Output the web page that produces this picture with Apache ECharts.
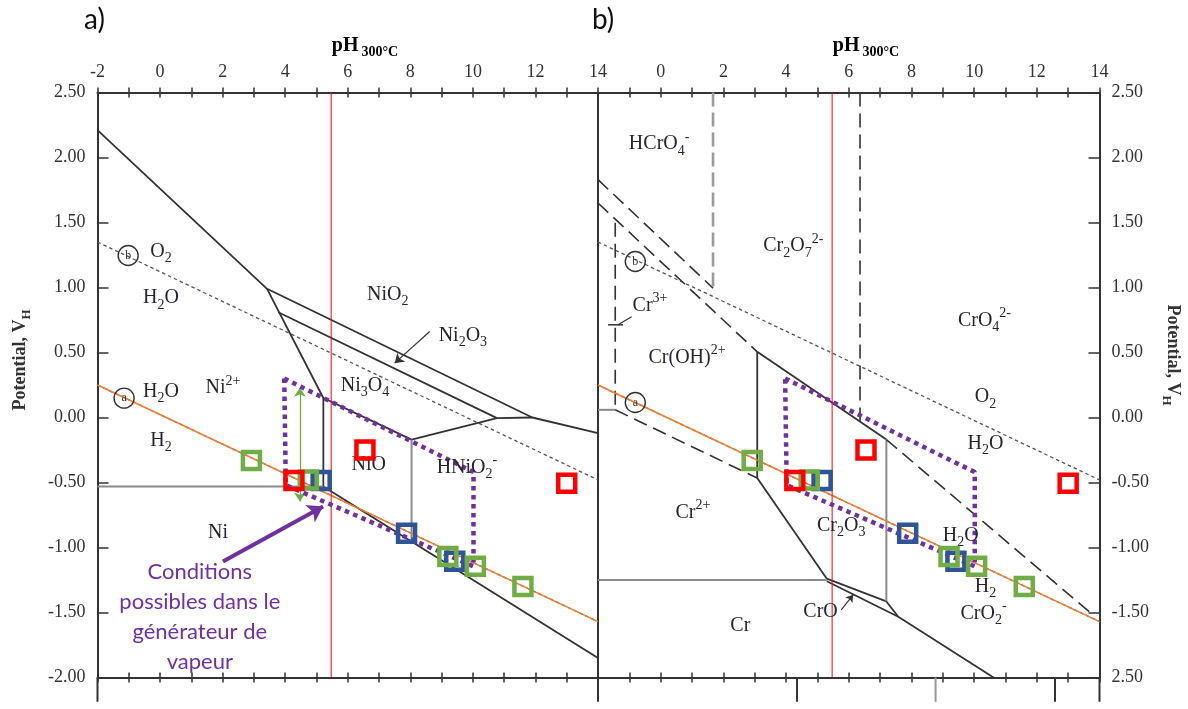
<!DOCTYPE html>
<html><head><meta charset="utf-8">
<script src="https://cdn.jsdelivr.net/npm/echarts@6/dist/echarts.min.js"></script>
<style>html,body{margin:0;padding:0;background:#fff}#c{width:1188px;height:709px}</style>
</head><body><div id="c"></div>
<script>
// ===================== DATA =====================
const pHRange = [-2, 14];
const potentialRange = [-2, 2.5];
const pHN = 5.47;
const rightAxisBottomLabel = '2.50';   // as printed on the original figure

// water stability lines (both diagrams)
const waterO2Line = [[-2, 1.35], [14, -0.48]];
const waterH2Line = [[-2, 0.25], [14, -1.57]];

// --- a) Ni diagram ---
const niSolidLines = [
  [[-2, 2.21], [3.42, 0.99]],
  [[3.42, 0.99], [11.9, 0.0], [14, -0.12]],
  [[3.78, 0.81], [10.77, -0.005], [11.9, 0.0]],
  [[3.42, 0.99], [5.22, 0.15], [5.22, -0.53]],
  [[5.22, 0.15], [8.04, -0.17], [10.77, -0.005]],
  [[5.22, -0.53], [14, -1.85]]
];
const niGrayLines = [
  [[-2, -0.53], [5.22, -0.53]],
  [[8.04, -0.17], [8.04, -0.95]]
];
const niLabels = [
  ['O{s|2}', [0.03, 1.275]],
  ['H{s|2}O', [0.03, 0.92]],
  ['H{s|2}O', [0.03, 0.198]],
  ['Ni{p|2+}', [2.01, 0.228]],
  ['H{s|2}', [0.03, -0.179]],
  ['Ni', [1.85, -0.887]],
  ['NiO{s|2}', [7.28, 0.944]],
  ['Ni{s|2}O{s|3}', [9.68, 0.629]],
  ['Ni{s|3}O{s|4}', [6.55, 0.244]],
  ['NiO', [6.67, -0.364]],
  ['HNiO{s|2}{p|-}', [9.81, -0.387]]
];
const niCircled = [['b', [-1.02, 1.246]], ['a', [-1.15, 0.149]]];
const niArrow = [[8.62, 0.662], [7.5, 0.418]];

// --- b) Cr diagram ---
const crSolidLines = [
  [[3.08, 0.505], [7.2, -0.17]],
  [[3.08, 0.505], [3.08, -0.466], [5.3, -1.24]],
  [[5.3, -1.24], [7.2, -1.415], [7.58, -1.533]],
  [[5.3, -1.26], [7.58, -1.533], [10.62, -2.0]]
];
const crGrayLines = [
  [[-2, -1.25], [5.3, -1.25]],
  [[7.2, -0.17], [7.2, -1.415]],
  [[-2, 0.059], [-1.45, 0.059]]
];
const crLongDashLines = [
  [[-2, 1.83], [1.67, 0.995]],
  [[-2, 1.65], [3.08, 0.505]],
  [[7.2, -0.17], [13.75, -1.51]],
  [[-1.45, 0.059], [3.08, -0.466]],
  [[6.36, 2.5], [6.36, -0.03]],
  [[-1.45, 1.498], [-1.45, 0.059]]
];
const crGrayDashLines = [
  [[1.67, 2.5], [1.67, 0.995]]
];
const crPlusMark = [[-1.68, 0.713], [-1.2, 0.713]];
const crLabels = [
  ['HCrO{s|4}{p|-}', [-0.05, 2.105]],
  ['Cr{s|2}O{s|7}{p|2-}', [4.23, 1.32]],
  ['Cr{p|3+}', [-0.34, 0.86]],
  ['Cr(OH){p|2+}', [0.84, 0.46]],
  ['CrO{s|4}{p|2-}', [10.33, 0.744]],
  ['O{s|2}', [10.36, 0.159]],
  ['H{s|2}O', [10.36, -0.202]],
  ['H{s|2}O', [9.57, -0.91]],
  ['H{s|2}', [10.36, -1.302]],
  ['CrO{s|2}{p|-}', [10.30, -1.51]],
  ['Cr{s|2}O{s|3}', [5.76, -0.833]],
  ['Cr{p|2+}', [1.03, -0.733]],
  ['Cr', [2.54, -1.60]],
  ['CrO', [5.10, -1.495]]
];
const crCircled = [['b', [-0.81, 1.2]], ['a', [-0.81, 0.115]]];
const crOArrow = [[5.76, -1.48], [6.14, -1.364]];
const cr3Leader = [[-1.36, 0.713], [-0.93, 0.775]];
const crBottomTicks = [[4.35, '#333'], [8.77, '#999'], [12.58, '#333']];

// --- measured conditions (same in both diagrams) ---
const measuredGreen = [[2.92, -0.33], [4.74, -0.48], [9.2, -1.07], [10.08, -1.145], [11.6, -1.30]];
const measuredBlue = [[5.15, -0.485], [7.88, -0.89], [9.42, -1.105]];
const measuredRed = [[4.28, -0.485], [6.55, -0.25], [13.0, -0.505]];
const steamGenZone = [[3.97, 0.30], [10.02, -0.42], [10.02, -1.145], [4.02, -0.52], [3.97, 0.30]];
const steamGenText = 'Conditions\npossibles dans le\ngénérateur de\nvapeur';
const steamGenTextPos = [1.27, -1.533];
const steamGenArrow = [[2.01, -1.108], [5.21, -0.685]];
const rangeArrow = [[4.47, 0.228], [4.47, -0.646]];
const axisExtensionBottom = -2.187;
const pHNLabelY = -2.149;

// ===================== STYLES =====================
const SERIF = '"Liberation Serif","DejaVu Serif",serif';
const SANS = 'Lato,"Open Sans",sans-serif';
const INK = '#333';
const TXT = '#262633';
const RED = '#FF0000', GREEN = '#70AD47', BLUE = '#2F5597', PURPLE = '#7030A0', ORANGE = '#ED7D31';
const labelRich = {
  s: {fontFamily: SERIF, fontSize: 14, color: TXT, verticalAlign: 'bottom', lineHeight: 28},
  p: {fontFamily: SERIF, fontSize: 14, color: TXT, verticalAlign: 'top', lineHeight: 28}
};

const grids = [
  {left: 97.5, top: 92.5, width: 500.5, height: 585},
  {left: 598, top: 92.5, width: 501.5, height: 585}
];

function xAxesFor(g, hideMin) {
  const base = {gridIndex: g, type: 'value', min: pHRange[0], max: pHRange[1], interval: 1,
    splitLine: {show: false}, axisPointer: {show: false}};
  const tickStyle = {color: INK, width: 1.5};
  return [
    Object.assign({}, base, {position: 'top', axisLine: {show: true, onZero: false, lineStyle: {color: INK, width: 2}},
      axisTick: {show: true, inside: true, length: 5, lineStyle: tickStyle},
      axisLabel: {show: true, margin: 11, fontFamily: SERIF, fontSize: 18, color: '#333',
        formatter: v => (v % 2 === 0 && !(hideMin && v === pHRange[0])) ? String(v) : ''}}),
    Object.assign({}, base, {position: 'top', axisLine: {show: false, onZero: false},
      axisTick: {show: true, inside: false, length: 5, lineStyle: tickStyle}, axisLabel: {show: false}}),
    Object.assign({}, base, {position: 'bottom', axisLine: {show: true, onZero: false, lineStyle: {color: INK, width: 2}},
      axisTick: {show: true, inside: true, length: 5, lineStyle: tickStyle}, axisLabel: {show: false}}),
    Object.assign({}, base, {position: 'bottom', axisLine: {show: false, onZero: false},
      axisTick: {show: true, inside: false, length: 5, lineStyle: tickStyle}, axisLabel: {show: false}})
  ];
}
const yBase = {type: 'value', min: potentialRange[0], max: potentialRange[1], interval: 0.5,
  splitLine: {show: false}, axisPointer: {show: false}};
const yAxes = [
  Object.assign({}, yBase, {gridIndex: 0, position: 'left',
    axisLine: {show: true, onZero: false, lineStyle: {color: INK, width: 2}},
    axisTick: {show: true, inside: true, length: 11, lineStyle: {color: INK, width: 1.5}},
    axisLabel: {show: true, margin: 12, fontFamily: SERIF, fontSize: 18, color: '#333', formatter: v => v.toFixed(2)}}),
  Object.assign({}, yBase, {gridIndex: 0, position: 'right',
    axisLine: {show: true, onZero: false, lineStyle: {color: INK, width: 2}}, axisTick: {show: false}, axisLabel: {show: false}}),
  Object.assign({}, yBase, {gridIndex: 1, position: 'left', show: false, axisLine: {onZero: false}}),
  Object.assign({}, yBase, {gridIndex: 1, position: 'right',
    axisLine: {show: true, onZero: false, lineStyle: {color: INK, width: 2}},
    axisTick: {show: true, inside: true, length: 11, lineStyle: {color: INK, width: 1.5}},
    axisLabel: {show: true, margin: 12, fontFamily: SERIF, fontSize: 18, color: '#333',
      formatter: v => v === potentialRange[0] ? rightAxisBottomLabel : v.toFixed(2)}})
];

const series = [];
function addLine(points, xi, yi, style, z) {
  series.push({type: 'line', xAxisIndex: xi, yAxisIndex: yi, data: points, symbol: 'none', showSymbol: false,
    lineStyle: style, clip: false, silent: true, z: z || 2, animation: false});
}
function addArrow(pts, xi, yi, color, width, symbols, size, curve, z) {
  series.push({type: 'line', xAxisIndex: xi, yAxisIndex: yi, data: [], silent: true, z: z || 6, animation: false,
    markLine: {silent: true, animation: false, symbol: symbols, symbolSize: size, label: {show: false},
      lineStyle: {color: color, width: width, type: 'solid', curveness: curve || 0, opacity: 1},
      emphasis: {disabled: true},
      data: [[{coord: pts[0]}, {coord: pts[1]}]]}});
}
function addLabels(list, xi, yi) {
  series.push({type: 'scatter', xAxisIndex: xi, yAxisIndex: yi, symbolSize: 0, silent: true, z: 8, animation: false,
    itemStyle: {opacity: 1},
    data: list.map(l => ({value: l[1], label: {formatter: l[0]}})),
    label: {show: true, position: 'inside', fontFamily: SERIF, fontSize: 20, color: TXT, lineHeight: 28, rich: labelRich}});
}
function addCircled(list, xi, yi) {
  series.push({type: 'scatter', xAxisIndex: xi, yAxisIndex: yi, symbol: 'circle', symbolSize: 20, silent: true, z: 7, animation: false,
    itemStyle: {color: 'rgba(255,255,255,0)', borderColor: '#333', borderWidth: 1.4, opacity: 1},
    data: list.map(l => ({value: l[1], label: {formatter: l[0]}})),
    label: {show: true, position: 'inside', fontFamily: SERIF, fontSize: 12, color: '#333'}});
}
function addMarkers(pts, color, xi, yi) {
  series.push({type: 'scatter', xAxisIndex: xi, yAxisIndex: yi, symbol: 'rect', symbolSize: 17, silent: true, z: 9, animation: false,
    itemStyle: {color: 'rgba(255,255,255,0)', borderColor: color, borderWidth: 4.5, opacity: 1}, data: pts});
}

const solid = {color: INK, width: 1.8, type: 'solid'};
const gray = {color: '#8a8a8a', width: 2, type: 'solid'};
const dotted = {color: '#555', width: 1.3, type: [3.5, 3]};
const longDash = {color: INK, width: 1.6, type: [14, 7]};
const grayDash = {color: '#9a9a9a', width: 2.6, type: [14, 6]};

[[0, 0], [4, 3]].forEach(([xi, yi]) => {
  addLine(waterO2Line, xi, yi, dotted, 2);
  addLine(waterH2Line, xi, yi, dotted, 2);
  addLine(waterH2Line, xi, yi, {color: ORANGE, width: 1.6, type: 'solid'}, 3);
  addLine([[pHN, potentialRange[1]], [pHN, potentialRange[0]]], xi, yi, {color: RED, width: 1, type: 'solid'}, 4);
  addLine(steamGenZone, xi, yi, {color: PURPLE, width: 4.5, type: [4.5, 4.5], cap: 'butt'}, 5);
});

// a) Ni
niSolidLines.forEach(l => addLine(l, 0, 0, solid));
niGrayLines.forEach(l => addLine(l, 0, 0, gray));
addArrow(niArrow, 0, 0, INK, 1.2, ['none', 'arrow'], 9);
addArrow(steamGenArrow, 0, 0, PURPLE, 4, ['none', 'arrow'], 15, 0, 10);
addArrow(rangeArrow, 0, 0, GREEN, 1.3, ['arrow', 'arrow'], 9);
addLabels(niLabels, 0, 0);
addCircled(niCircled, 0, 0);

// b) Cr
crSolidLines.forEach(l => addLine(l, 4, 3, solid));
crGrayLines.forEach(l => addLine(l, 4, 3, gray));
crLongDashLines.forEach(l => addLine(l, 4, 3, longDash));
crGrayDashLines.forEach(l => addLine(l, 4, 3, grayDash));
addLine(crPlusMark, 4, 3, {color: INK, width: 1.5, type: 'solid'});
addArrow(crOArrow, 4, 3, INK, 1.2, ['none', 'arrow'], 7, -0.5);
addArrow(cr3Leader, 4, 3, INK, 1.2, ['none', 'none'], 1, 0.4);
addLabels(crLabels, 4, 3);
addCircled(crCircled, 4, 3);
crBottomTicks.forEach(t => addLine([[t[0], potentialRange[0]], [t[0], axisExtensionBottom]], 4, 3, {color: t[1], width: 2}));

// axis line extensions below the bottom axes
addLine([[pHRange[0], potentialRange[0]], [pHRange[0], axisExtensionBottom]], 0, 0, {color: INK, width: 2});
addLine([[pHRange[1], potentialRange[0]], [pHRange[1], axisExtensionBottom]], 0, 0, {color: INK, width: 2});
addLine([[pHRange[1], potentialRange[0]], [pHRange[1], axisExtensionBottom]], 4, 3, {color: INK, width: 2});

// markers, both plots
[[0, 0], [4, 3]].forEach(([xi, yi]) => {
  addMarkers(measuredBlue, BLUE, xi, yi);
  addMarkers(measuredGreen, GREEN, xi, yi);
  addMarkers(measuredRed, RED, xi, yi);
  series.push({type: 'scatter', xAxisIndex: xi, yAxisIndex: yi, symbolSize: 0, silent: true, z: 8, animation: false,
    itemStyle: {opacity: 1},
    data: [{value: [pHN, pHNLabelY]}],
    label: {show: true, position: 'inside', formatter: 'pH{n|N}', fontFamily: SANS, fontSize: 17, color: RED, lineHeight: 22,
      rich: {n: {fontFamily: SANS, fontSize: 11, color: RED, verticalAlign: 'bottom', lineHeight: 24}}}});
});

// purple annotation text
series.push({type: 'scatter', xAxisIndex: 0, yAxisIndex: 0, symbolSize: 0, silent: true, z: 8, animation: false,
  itemStyle: {opacity: 1},
  data: [{value: steamGenTextPos}],
  label: {show: true, position: 'inside', formatter: steamGenText, fontFamily: SANS, fontSize: 22,
    color: PURPLE, lineHeight: 30, align: 'center'}});

const titleRich = {
  p: {fontFamily: SERIF, fontSize: 20, fontWeight: 'bold', color: '#333', lineHeight: 24},
  s: {fontFamily: SERIF, fontSize: 14, fontWeight: 'bold', color: '#333', verticalAlign: 'bottom', lineHeight: 26, padding: [0, 0, 0, 3]}
};
const nameRich = {
  s: {fontFamily: SERIF, fontSize: 13, fontWeight: 'bold', color: '#333', verticalAlign: 'bottom', lineHeight: 26}
};

const option = {
  animation: false,
  backgroundColor: '#fff',
  grid: grids,
  xAxis: xAxesFor(0, false).concat(xAxesFor(1, true)),
  yAxis: yAxes,
  series: series,
  graphic: [
    {type: 'text', x: 84, y: 6, style: {text: 'a)', fontFamily: SANS, fontSize: 28, fill: '#111'}},
    {type: 'text', x: 592, y: 6, style: {text: 'b)', fontFamily: SANS, fontSize: 28, fill: '#111'}},
    {type: 'text', x: 365, y: 46, style: {text: '{p|pH}{s|300°C}', rich: titleRich, align: 'center', verticalAlign: 'middle'}},
    {type: 'text', x: 866, y: 46, style: {text: '{p|pH}{s|300°C}', rich: titleRich, align: 'center', verticalAlign: 'middle'}},
    {type: 'text', x: 20, y: 360, rotation: Math.PI / 2,
      style: {text: 'Potential, V{s|H}', fontFamily: SERIF, fontSize: 18, fontWeight: 'bold', fill: '#333', rich: nameRich, align: 'center', verticalAlign: 'middle'}},
    {type: 'text', x: 1173, y: 355, rotation: -Math.PI / 2,
      style: {text: 'Potential, V{s|H}', fontFamily: SERIF, fontSize: 18, fontWeight: 'bold', fill: '#333', rich: nameRich, align: 'center', verticalAlign: 'middle'}}
  ]
};
const chart = echarts.init(document.getElementById('c'));
chart.setOption(option);
</script>
</body></html>
